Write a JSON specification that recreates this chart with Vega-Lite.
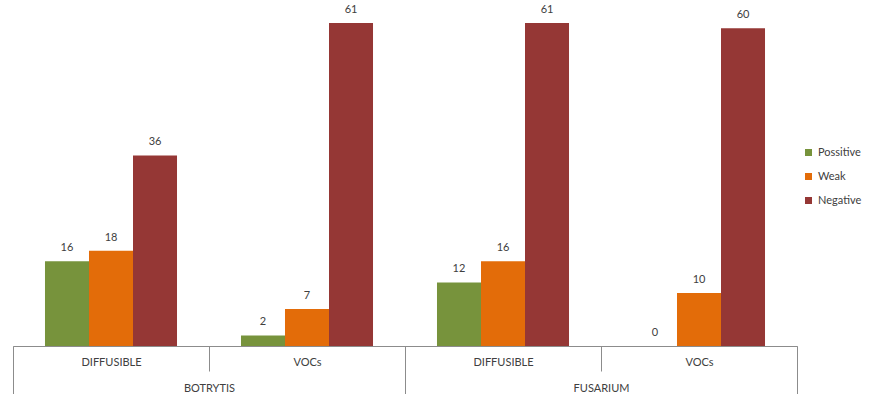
{
  "$schema": "https://vega.github.io/schema/vega-lite/v6.json",
  "width": 784,
  "height": 323,
  "autosize": {"type": "none"},
  "padding": {"left": 13, "top": 23, "right": 77, "bottom": 48},
  "background": "white",
  "config": {
    "view": {"stroke": null},
    "font": "Lato",
    "axis": {"labelFont": "Lato", "labelFontSize": 11, "labelColor": "#404040", "domainColor": "#8c8c8c", "tickColor": "#8c8c8c", "grid": false},
    "legend": {"labelFont": "Lato", "labelFontSize": 11, "labelColor": "#404040"}
  },
  "data": {
    "values": [
      {"organism": "BOTRYTIS", "type": "DIFFUSIBLE", "series": "Possitive", "value": 16},
      {"organism": "BOTRYTIS", "type": "DIFFUSIBLE", "series": "Weak", "value": 18},
      {"organism": "BOTRYTIS", "type": "DIFFUSIBLE", "series": "Negative", "value": 36},
      {"organism": "BOTRYTIS", "type": "VOCs", "series": "Possitive", "value": 2},
      {"organism": "BOTRYTIS", "type": "VOCs", "series": "Weak", "value": 7},
      {"organism": "BOTRYTIS", "type": "VOCs", "series": "Negative", "value": 61},
      {"organism": "FUSARIUM", "type": "DIFFUSIBLE", "series": "Possitive", "value": 12},
      {"organism": "FUSARIUM", "type": "DIFFUSIBLE", "series": "Weak", "value": 16},
      {"organism": "FUSARIUM", "type": "DIFFUSIBLE", "series": "Negative", "value": 61},
      {"organism": "FUSARIUM", "type": "VOCs", "series": "Possitive", "value": 0},
      {"organism": "FUSARIUM", "type": "VOCs", "series": "Weak", "value": 10},
      {"organism": "FUSARIUM", "type": "VOCs", "series": "Negative", "value": 60}
    ]
  },
  "transform": [
    {"calculate": "datum.organism + '|' + datum.type", "as": "group"}
  ],
  "layer": [
    {
      "encoding": {
        "x": {
          "field": "group",
          "type": "nominal",
          "sort": null,
          "title": null,
          "scale": {"paddingInner": 0, "paddingOuter": 0},
          "axis": {
            "orient": "bottom",
            "labelExpr": "split(datum.label, '|')[1]",
            "labelAngle": 0,
            "tickBand": "extent",
            "tickSize": 25,
            "labelPadding": -15
          }
        },
        "xOffset": {
          "field": "series",
          "type": "nominal",
          "sort": ["Possitive", "Weak", "Negative"],
          "scale": {"paddingInner": 0, "paddingOuter": 0.727}
        },
        "y": {
          "field": "value",
          "type": "quantitative",
          "scale": {"domain": [0, 61], "nice": false},
          "axis": null
        }
      },
      "layer": [
        {
          "mark": {"type": "bar"},
          "encoding": {
            "color": {
              "field": "series",
              "type": "nominal",
              "sort": ["Possitive", "Weak", "Negative"],
              "scale": {"domain": ["Possitive", "Weak", "Negative"], "range": ["#77933c", "#e36c09", "#953735"]},
              "legend": {
                "title": null,
                "orient": "none",
                "legendX": 790,
                "legendY": 124,
                "symbolType": "square",
                "symbolSize": 49,
                "symbolStrokeWidth": 0,
                "rowPadding": 12,
                "labelOffset": 4
              }
            }
          }
        },
        {
          "mark": {"type": "text", "baseline": "middle", "dy": -13, "fontSize": 11, "fill": "#404040"},
          "encoding": {"text": {"field": "value", "type": "quantitative"}}
        }
      ]
    },
    {
      "mark": {"type": "point", "opacity": 0},
      "encoding": {
        "x": {
          "field": "organism",
          "type": "nominal",
          "title": null,
          "scale": {"paddingInner": 0, "paddingOuter": 0},
          "axis": {
            "orient": "bottom",
            "labelAngle": 0,
            "tickBand": "extent",
            "tickSize": 48,
            "domain": false,
            "labelPadding": -12
          }
        }
      }
    }
  ],
  "resolve": {"scale": {"x": "independent"}, "axis": {"x": "independent"}}
}
